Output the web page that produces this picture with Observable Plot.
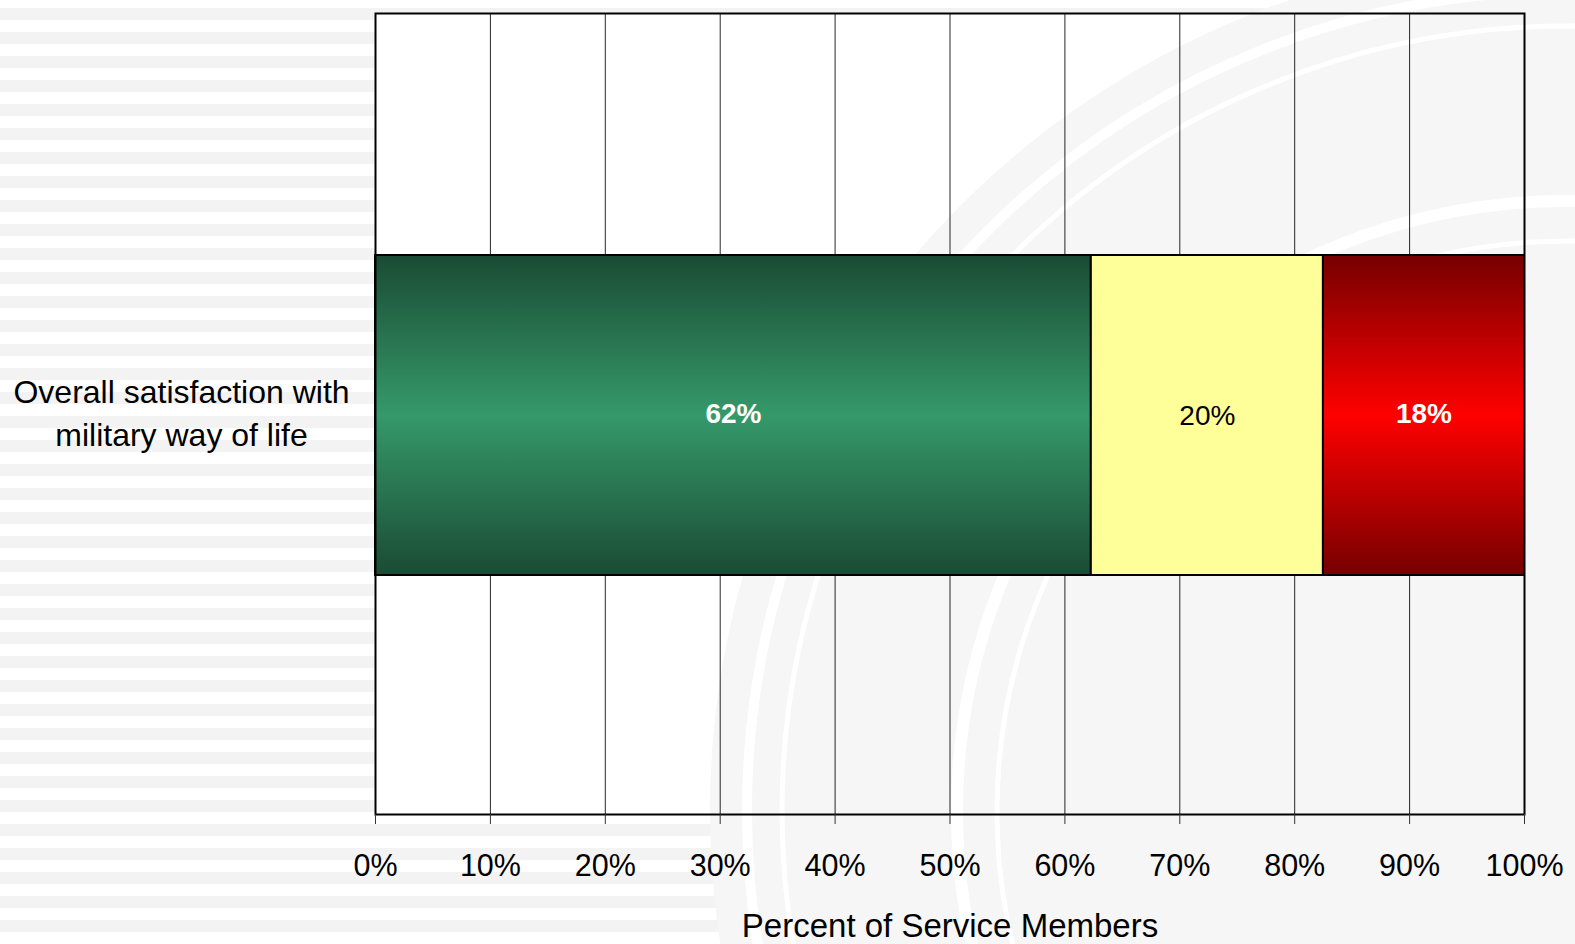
<!DOCTYPE html>
<html>
<head>
<meta charset="utf-8">
<script src="https://cdn.jsdelivr.net/npm/d3@7"></script>
<script src="https://cdn.jsdelivr.net/npm/@observablehq/plot@0.6"></script>
<style>
  html, body { margin: 0; padding: 0; overflow: hidden; }
  body {
    width: 1575px; height: 944px;
    background: repeating-linear-gradient(to bottom, #ffffff 0px, #ffffff 8px, #f3f3f3 8px, #f3f3f3 20px, #ffffff 20px, #ffffff 24px);
    font-family: "Liberation Sans", Arial, sans-serif;
  }
</style>
</head>
<body>
<div id="chart"></div>
<script>
const categories = ["Overall satisfaction with\nmilitary way of life"];
const responses = ["Satisfied", "Neither", "Dissatisfied"];
const values = [62.3, 20.2, 17.5];
const tickValues = [0, 10, 20, 30, 40, 50, 60, 70, 80, 90, 100];
const xLabel = "Percent of Service Members";

const data = responses.map((r, i) => ({item: categories[0], response: r, value: values[i]}));
const stackOpts = {x: "value", y: "item", z: "response", order: responses};
const pct = d => Math.round(d.value) + "%";

const plot = Plot.plot({
  width: 1575,
  height: 944,
  marginLeft: 375,
  marginRight: 51,
  marginTop: 13,
  marginBottom: 130,
  style: {background: "transparent", fontFamily: "'Liberation Sans', Arial, sans-serif", color: "black"},
  x: {domain: [0, 100], label: null},
  y: {domain: categories, padding: 0.425, label: null},
  color: {domain: responses, range: ["url(#gradGreen)", "#ffff99", "url(#gradRed)"]},
  marks: [
    Plot.frame({fill: "white", stroke: null}),
    Plot.gridX({ticks: tickValues, stroke: "#000", strokeOpacity: 0.85, strokeWidth: 1}),
    Plot.barX(data, Plot.stackX({...stackOpts, fill: "response", stroke: "black", strokeWidth: 2, insetTop: 3})),
    Plot.text(data, Plot.stackX({...stackOpts, text: d => d.response !== "Neither" ? pct(d) : "", fill: "white", fontWeight: "bold", fontSize: 28})),
    Plot.text(data, Plot.stackX({...stackOpts, text: d => d.response === "Neither" ? pct(d) : "", fill: "black", fontSize: 28, dy: 2})),
    Plot.frame({stroke: "black", strokeWidth: 2}),
    Plot.axisX({ticks: tickValues, tickFormat: d => d + "%", tickSize: 10, tickPadding: 30, fontSize: 30.5, label: null, stroke: "#333"}),
    Plot.axisX({ticks: [], label: xLabel, labelAnchor: "center", labelArrow: "none", fontSize: 33, labelOffset: 122}),
    Plot.axisY({tickSize: 0, tickPadding: 194, textAnchor: "middle", fontSize: 32, lineHeight: 1.34, dy: -3, label: null})
  ]
});

const svg = d3.select(plot);
const defs = svg.insert("defs", ":first-child");
function grad(id, edge, mid) {
  const g = defs.append("linearGradient").attr("id", id).attr("x1", 0).attr("y1", 0).attr("x2", 0).attr("y2", 1);
  g.append("stop").attr("offset", "0%").attr("stop-color", edge);
  g.append("stop").attr("offset", "50%").attr("stop-color", mid);
  g.append("stop").attr("offset", "100%").attr("stop-color", edge);
}
grad("gradGreen", "#1a4b34", "#35996a");
grad("gradRed", "#760000", "#ff0000");

// faint decorative seal watermark behind the bars
const frameNode = plot.querySelector("[aria-label=frame]");
const seal = d3.create("svg:g").attr("aria-label", "watermark");
seal.append("circle").attr("cx", 1567).attr("cy", 811).attr("r", 857).attr("fill", "#f6f6f6");
[[820, 10], [785, 5], [610, 12], [570, 5]].forEach(([r, w]) =>
  seal.append("circle").attr("cx", 1567).attr("cy", 811).attr("r", r).attr("fill", "none").attr("stroke", "white").attr("stroke-width", w));
frameNode.parentNode.insertBefore(seal.node(), frameNode.nextSibling);

document.getElementById("chart").appendChild(plot);
</script>
</body>
</html>
